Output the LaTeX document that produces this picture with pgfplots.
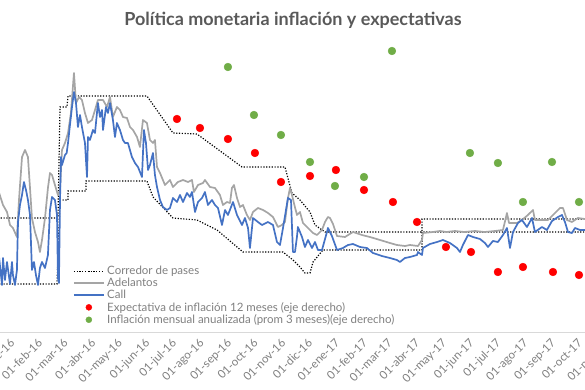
\documentclass[border=0pt]{standalone}
\usepackage{pgfplots}
\pgfplotsset{compat=1.18}
\usepackage{fontspec}
\setmainfont{Lato}
\definecolor{callblue}{HTML}{4472C4}
\definecolor{adegray}{HTML}{A5A5A5}
\definecolor{expred}{HTML}{FF0000}
\definecolor{infgreen}{HTML}{70AD47}
\definecolor{titlegray}{HTML}{595959}
\definecolor{txtgray}{HTML}{7F7F7F}
\begin{document}
\begin{tikzpicture}
\pgfplotsset{
  common/.style={
    at={(-20pt,58pt)}, anchor=south west,
    scale only axis, width=640pt, height=292pt,
    xmin=-33.2, xmax=687.5,
  },
  /pgfplots/legend image code/.code={\draw[mark repeat=2,mark phase=2,#1] plot coordinates {(0pt,0pt) (15pt,0pt) (30pt,0pt)};},
}
\begin{axis}[common,
  ymin=12.8, ymax=42,
  axis y line=none, axis x line*=bottom,
  x axis line style={draw=black!15, line width=0.8pt, -},
  major tick length=0pt,
  xtick={0,31,60,91,121,152,182,213,244,274,305,335,366,397,425,456,486,517,547,578,609,639,670},
  xticklabels={01-ene-16,01-feb-16,01-mar-16,01-abr-16,01-may-16,01-jun-16,01-jul-16,01-ago-16,01-sep-16,01-oct-16,01-nov-16,01-dic-16,01-ene-17,01-feb-17,01-mar-17,01-abr-17,01-may-17,01-jun-17,01-jul-17,01-ago-17,01-sep-17,01-oct-17,01-nov-17},
  xticklabel shift=5.5pt,
  xticklabel style={rotate=45, anchor=north east, inner sep=0pt, font=\fontsize{11.5}{12}\selectfont, text=txtgray},
]
% Corredor de pases (upper)
\addplot[black, line width=1.2pt, dash pattern=on 1.2pt off 1.6pt] coordinates {
(-13,24.2) (54.6,24.2) (56.9,35.3) (64.7,35.3) (65.9,36.4) (154.8,36.4) (184.1,32.7) (211.1,32.6) (261.8,29.3) (310.2,29.3) (318.1,26.7) (327.1,26.0) (338.4,24.8) (344.0,23.5) (355.3,22.8) (464.5,22.8) (464.6,24.1) (650.2,24.1)
};
% Corredor de pases (lower)
\addplot[black, line width=1.2pt, dash pattern=on 1.2pt off 1.6pt] coordinates {
(-13,17.6) (53.5,17.6) (56.9,26.0) (65.9,26.0) (66.0,26.9) (86.1,26.9) (86.2,27.9) (154.8,27.9) (161.6,26.3) (184.1,24.2) (211.1,24.0) (233.7,23.0) (262.9,20.8) (308.0,20.8) (319.2,20.0) (327.1,19.3) (332.7,18.7) (338.4,18.7) (341.8,19.8) (353.0,21.0) (464.5,21.0) (464.6,22.8) (650.2,22.8)
};
% Adelantos
\addplot[adegray, line width=1.7pt, line join=round] coordinates {
(-12,26.8) (-7.3,25.5) (-2.8,24.8) (0.6,23.5) (3.9,23.2) (8.4,22.3) (10.7,26.0) (14.1,30.3) (17.5,31.0) (20.8,30.3) (23.1,27.2) (25.3,24.2) (28.7,22.8) (32.1,21.8) (34.3,20.8) (36.6,22.0) (40.0,24.2) (43.3,27.2) (45.6,28.7) (47.9,28.5) (51.2,27.5) (54.6,26.5) (56.9,27.0) (59.1,31.0) (62.5,31.7) (65.9,32.7) (69.2,34.7) (72.6,38.7) (74.9,35.7) (78.3,36.3) (81.6,36.0) (85.0,34.7) (88.4,33.7) (92.9,34.0) (96.3,35.0) (99.6,36.0) (105.3,36.0) (109.8,35.3) (113.2,36.3) (116.5,34.3) (121.0,35.3) (124.4,35.0) (127.8,34.3) (132.3,34.2) (135.7,33.3) (139.1,33.0) (143.6,32.3) (146.9,31.3) (150.3,34.0) (154.8,33.7) (158.2,32.0) (161.6,31.7) (163.8,32.0) (166.1,29.3) (169.5,28.7) (175.1,27.5) (180.7,28.0) (184.1,27.3) (189.7,27.8) (195.4,28.0) (201.0,27.8) (205.5,28.0) (207.7,26.8) (212.3,27.5) (217.9,27.7) (220.1,28.0) (225.8,27.3) (231.4,27.2) (237.0,26.5) (240.4,25.5) (244.9,25.8) (248.3,25.7) (250.5,27.2) (252.8,27.5) (256.2,26.2) (259.6,25.3) (262.9,25.5) (267.4,24.5) (270.8,24.0) (274.2,24.8) (279.8,25.2) (285.5,25.0) (291.1,24.7) (296.7,24.3) (302.3,23.3) (306.8,23.5) (310.2,23.8) (313.6,26.2) (315.9,27.2) (318.1,26.5) (320.3,25.7) (323.7,24.5) (327.1,24.8) (330.5,23.7) (336.1,23.2) (341.8,22.7) (346.3,22.5) (351.9,23.0) (355.3,23.8) (358.6,24.3) (360.9,24.2) (364.3,23.6) (368.8,22.4) (377.8,22.3) (386.8,22.8) (396.9,22.5) (405.9,22.3) (417.2,22.0) (428.4,21.7) (436.3,21.5) (445.3,21.4) (451.0,21.5) (460.0,21.4) (464.5,22.0) (465.6,22.7) (476.9,22.8) (484.7,22.9) (492.0,22.8) (501.6,22.9) (512.0,22.8) (524.2,22.9) (535.0,22.8) (546.7,22.9) (555.7,23.0) (560.2,24.7) (562.5,23.7) (571.5,23.7) (577.1,24.0) (583.8,24.5) (589.5,25.0) (591.7,24.0) (599.6,24.0) (606.4,24.0) (614.3,24.7) (619.9,25.2) (623.3,25.2) (627.8,24.0) (633.4,23.8) (640.1,24.2) (648.0,24.1) (650.2,24.1)
};
% Call
\addplot[callblue, line width=1.7pt, line join=round] coordinates {
(-12,20.5) (-8.4,17.5) (-7.3,20.2) (-5.1,18.0) (-2.8,19.8) (0.6,17.6) (2.8,19.8) (3.9,18.5) (6.2,17.5) (8.4,19.0) (9.6,23.8) (11.8,25.5) (14.1,26.5) (16.3,27.8) (18.6,27.0) (20.8,26.0) (23.1,24.5) (25.3,19.0) (27.6,19.8) (29.8,18.5) (32.1,17.5) (34.3,19.2) (36.6,19.8) (40.0,19.2) (43.3,20.5) (45.6,25.0) (47.9,26.3) (51.2,26.0) (53.5,24.5) (54.6,18.2) (55.7,17.7) (56.9,26.0) (58.0,30.3) (59.1,29.5) (62.5,30.5) (64.4,30.7) (65.9,31.7) (68.1,33.5) (70.4,35.3) (72.6,36.8) (74.9,35.7) (77.1,33.3) (79.4,34.5) (81.6,33.3) (85.0,31.7) (87.3,28.3) (88.4,32.3) (90.6,32.0) (94.0,33.0) (96.3,32.7) (99.6,35.7) (101.9,34.3) (104.2,35.0) (105.3,33.0) (108.7,35.3) (110.9,34.7) (113.2,35.7) (116.5,34.0) (118.8,32.3) (121.0,33.7) (124.4,33.0) (127.8,32.0) (130.1,31.7) (133.4,31.7) (137.9,30.3) (141.3,29.7) (144.7,29.3) (149.2,28.3) (151.4,33.0) (153.7,31.7) (156.0,29.0) (158.2,29.5) (161.6,30.7) (163.8,28.5) (166.1,27.3) (169.5,26.0) (172.8,25.3) (177.3,25.0) (180.7,25.2) (184.1,26.2) (188.6,25.8) (192.0,26.5) (195.4,25.8) (199.9,26.7) (203.2,26.3) (205.5,26.8) (208.9,24.8) (212.3,25.8) (216.8,26.2) (220.1,26.8) (223.5,25.5) (228.0,26.0) (231.4,25.5) (234.8,25.2) (239.3,23.5) (242.7,25.0) (246.0,24.5) (251.7,25.8) (256.2,24.5) (261.8,23.5) (265.2,24.2) (268.6,23.2) (270.8,21.2) (274.2,24.2) (279.8,23.8) (284.3,23.5) (291.1,23.8) (296.7,23.5) (301.2,21.8) (304.6,21.5) (308.0,23.2) (313.6,26.2) (317.0,26.0) (319.2,20.8) (321.5,20.8) (323.7,22.3) (324.8,23.3) (329.4,22.3) (332.7,21.3) (336.1,22.0) (340.6,21.2) (344.0,21.8) (347.4,21.0) (351.9,21.0) (357.5,22.8) (358.6,23.2) (363.1,22.4) (368.8,21.0) (375.5,21.2) (381.2,21.5) (386.8,21.6) (394.7,21.3) (402.5,21.2) (409.3,20.7) (419.4,20.4) (428.4,20.2) (436.3,20.0) (439.7,19.8) (445.3,20.2) (451.0,20.3) (458.9,20.5) (460.0,20.8) (464.5,20.5) (465.6,21.2) (473.5,21.6) (481.4,21.8) (488.1,22.0) (496.0,21.7) (503.9,21.2) (507.3,20.8) (510.6,21.5) (516.3,22.5) (521.9,22.3) (529.8,22.1) (535.4,21.7) (538.8,21.3) (544.4,21.9) (550.0,21.8) (555.7,22.5) (560.2,23.2) (563.6,21.2) (567.0,22.8) (572.6,23.7) (577.1,24.0) (582.7,23.3) (588.4,24.2) (591.7,22.8) (599.6,23.3) (605.2,23.0) (610.9,23.9) (617.6,24.3) (622.1,24.5) (625.5,23.8) (628.9,22.8) (633.4,22.7) (636.8,23.2) (642.4,23.0) (650.2,23.0)
};
\end{axis}
\begin{axis}[common,
  ymin=0, ymax=29.2,
  hide axis,
  legend cell align=left,
  legend style={at={(0.145,0.228)}, anchor=north west, draw=none, fill=none, inner sep=0pt,
    font=\fontsize{11.5}{12}\selectfont, text=txtgray, row sep=0.8pt,
    nodes={inner xsep=2.5pt, inner ysep=0.6pt}},
]
\addlegendimage{black, line width=1.2pt, dash pattern=on 1.2pt off 1.6pt}
\addlegendentry{Corredor de pases}
\addlegendimage{adegray, line width=1.7pt}
\addlegendentry{Adelantos}
\addlegendimage{callblue, line width=1.7pt}
\addlegendentry{Call}
\addplot[only marks, mark=*, mark size=3.9pt, draw=expred, fill=expred, legend image post style={mark size=3pt}] coordinates {
(188.6,21.3) (214.5,20.4) (246.0,19.3) (276.4,17.9) (305.7,15.0) (338.4,15.6) (367.6,16.2) (399.2,14.2) (431.8,13.0) (458.9,11.0) (491.5,8.5) (519.7,8.0) (550.0,6.0) (578.2,6.5) (612.0,6.0) (641.3,5.7)
};
\addlegendentry{Expectativa de inflación 12 meses (eje derecho)}
\addplot[only marks, mark=*, mark size=3.9pt, draw=infgreen, fill=infgreen, legend image post style={mark size=3pt}] coordinates {
(246.0,26.5) (275.3,21.7) (305.7,19.7) (338.4,17.0) (366.5,14.6) (399.2,15.5) (430.7,28.1) (518.5,17.9) (550.0,16.9) (578.2,13.0) (610.9,17.0) (641.3,13.0)
};
\addlegendentry{Inflación mensual anualizada (prom 3 meses)(eje derecho)}
\end{axis}
\node[anchor=base, font=\bfseries\fontsize{18}{21}\selectfont, text=titlegray] at (293pt,364pt) {Política monetaria inflación y expectativas};
\pgfresetboundingbox
\path[use as bounding box] (0pt,0pt) rectangle (585pt,390pt);
\end{tikzpicture}
\end{document}
